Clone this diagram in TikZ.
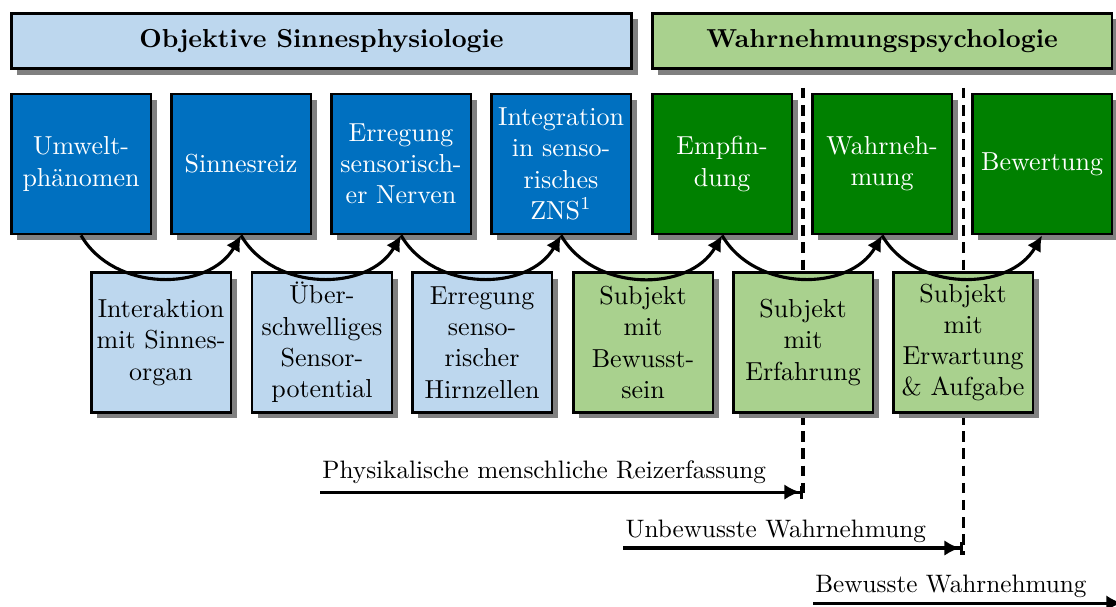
\documentclass[tikz,border=0pt]{standalone}
\usepackage{fontspec}
\usepackage{tikz}
\usetikzlibrary{arrows.meta,shadows,calc}

\definecolor{hellblau}{HTML}{BDD7EE}
\definecolor{dunkelblau}{HTML}{0070C0}
\definecolor{hellgruen}{HTML}{A9D18E}
\definecolor{dunkelgruen}{HTML}{008000}

\tikzset{
 kasten/.style={draw=black,line width=1.1pt,align=center,inner sep=1pt,
   drop shadow={shadow xshift=2.3pt,shadow yshift=-2.3pt,fill=gray,opacity=1}},
 kopf/.style={kasten,minimum height=0.75cm,font=\bfseries},
 stufe/.style={kasten,minimum width=1.89cm,minimum height=1.89cm,text=white},
 bedingung/.style={kasten,minimum width=1.89cm,minimum height=1.89cm},
 bogen/.style={very thick,-{Latex[length=6pt,width=6pt]}},
 grenze/.style={very thick,dash pattern=on 4pt off 2.6pt},
 pfeil/.style={very thick,-{Latex[length=6pt,width=6pt]}},
 pfeilbar/.style={very thick,-{Latex[length=6pt,width=6pt,sep=0pt]Bar[width=5pt]}},
 beschriftung/.style={anchor=base west,inner sep=0pt,font=\fontsize{9.7}{11.6}\selectfont}
}

\begin{document}
\begin{tikzpicture}
\useasboundingbox (0,0) rectangle (15.08,-8.20);
%headers
\node[kopf,fill=hellblau,minimum width=8.38cm] (objektiv) at (4.345,-0.554) {Objektive Sinnesphysiologie};
\node[kopf,fill=hellgruen,minimum width=6.21cm] (psycho) at (11.92,-0.554) {Wahrnehmungspsychologie};
%upper row
\node[stufe,fill=dunkelblau] (umwelt) at (1.095,-2.216) {Umwelt-\\phänomen};
\node[stufe,fill=dunkelblau] (reiz) at (3.257,-2.216) {Sinnesreiz};
\node[stufe,fill=dunkelblau] (nerven) at (5.419,-2.216) {Erregung\\sensorisch-\\er Nerven};
\node[stufe,fill=dunkelblau] (zns) at (7.581,-2.216) {Integration\\in senso-\\risches\\ZNS\textsuperscript{1}};
\node[stufe,fill=dunkelgruen] (empfindung) at (9.757,-2.216) {Empfin-\\dung};
\node[stufe,fill=dunkelgruen] (wahrn) at (11.919,-2.216) {Wahrneh-\\mung};
\node[stufe,fill=dunkelgruen] (bewertung) at (14.081,-2.216) {Bewertung};
%dashed borders
\coordinate (grenzeA) at (10.851,-1.189);
\coordinate (endeA) at (10.851,-6.743);
\coordinate (grenzeB) at (13.014,-1.189);
\coordinate (endeB) at (13.014,-7.50);
\draw[grenze] (grenzeA) -- (endeA);
\draw[grenze] (grenzeB) -- (endeB);
%lower row
\node[bedingung,fill=hellblau] (organ) at (2.176,-4.628) {Interaktion\\mit Sinnes-\\organ};
\node[bedingung,fill=hellblau] (potential) at (4.351,-4.628) {Über-\\schwelliges\\Sensor-\\potential};
\node[bedingung,fill=hellblau] (hirn) at (6.514,-4.628) {Erregung\\senso-\\rischer\\Hirnzellen};
\node[bedingung,fill=hellgruen] (bewusst) at (8.689,-4.628) {Subjekt\\mit\\Bewusst-\\sein};
\node[bedingung,fill=hellgruen] (erfahrung) at (10.851,-4.628) {Subjekt\\mit\\Erfahrung};
\node[bedingung,fill=hellgruen] (erwartung) at (13.014,-4.628) {Subjekt\\mit\\Erwartung\\\& Aufgabe};
%curved arrows
\foreach \a/\b in {umwelt/reiz,reiz/nerven,nerven/zns,zns/empfindung,empfindung/wahrn,wahrn/bewertung}{
\draw[bogen] (\a.south) to[out=-60,in=-120,looseness=1.05] (\b.south);
}
%ranges
\node[beschriftung] (physik) at (4.35,-6.459) {Physikalische menschliche Reizerfassung};
\coordinate (startA) at (4.324,-6.649);
\draw[pfeilbar] (startA) -- (startA -| endeA);
\node[beschriftung] (unbewusst) at (8.446,-7.257) {Unbewusste Wahrnehmung};
\coordinate (startB) at (8.419,-7.405);
\draw[pfeilbar] (startB) -- (startB -| endeB);
\node[beschriftung] (bewusstw) at (11.01,-8.0) {Bewusste Wahrnehmung};
\coordinate (startC) at (10.986,-8.149);
\coordinate (endeC) at (15.16,-8.149);
\draw[pfeil] (startC) -- (endeC);
\end{tikzpicture}
\end{document}
